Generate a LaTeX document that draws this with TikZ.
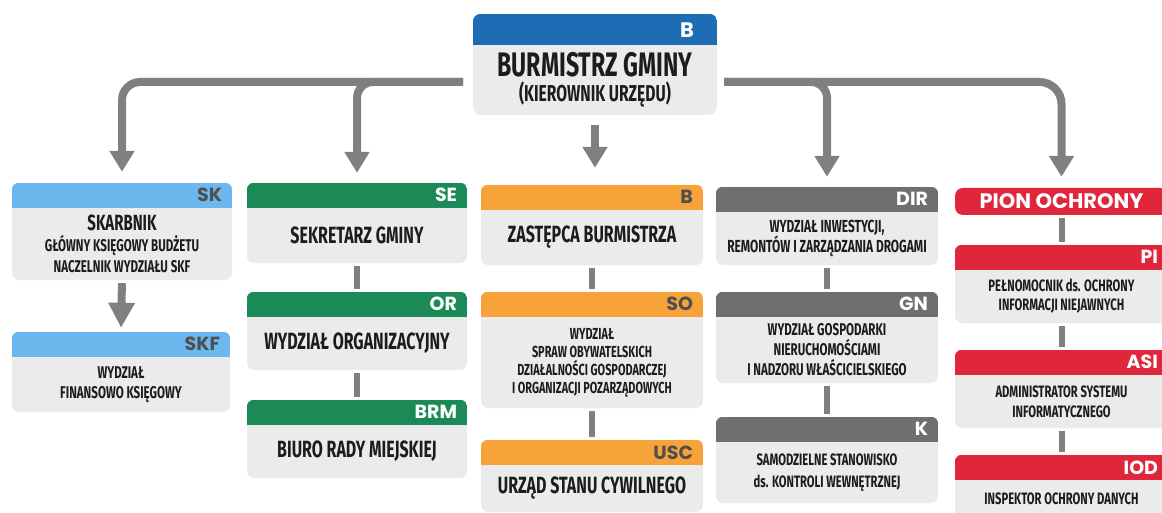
\documentclass[tikz,border=0pt]{standalone}
\usepackage{fontspec}
\newfontfamily\cnd[FakeStretch=0.68]{Fira Sans}
\newfontfamily\labf{Poppins}
\usetikzlibrary{fit,calc,arrows.meta}
\definecolor{bodyg}{HTML}{EBEBEB}
\definecolor{cblue}{HTML}{1E6DB4}
\definecolor{clblue}{HTML}{6CB8EE}
\definecolor{cgreen}{HTML}{1B8A57}
\definecolor{corange}{HTML}{F8A23A}
\definecolor{cgrey}{HTML}{6E6F71}
\definecolor{cred}{HTML}{E0263B}
\definecolor{arrg}{HTML}{808080}
\definecolor{labdark}{HTML}{4F4F4F}
\definecolor{txt}{HTML}{1C1C1C}
\def\hh{25}
% #1 body font opts, #2 name, #3 corner, #4 corner, #5 header colour, #6 label colour, #7 label, #8 body text
\newcommand\obox[8][]{%
  \node[fit={(#3) (#4)}, inner sep=0pt, fill=bodyg, rounded corners=7pt] (#2) {};
  \begin{scope}
    \clip[rounded corners=7pt] (#2.north west) rectangle (#2.south east);
    \fill[#5] (#2.north west) rectangle ([yshift=-\hh pt]#2.north east);
  \end{scope}
  \node[lab, text=#6, anchor=east] (#2-l) at ([xshift=-10pt,yshift=-0.5*\hh pt]#2.north east) {#7};
  \node[bodytxt, #1] (#2-t) at ($([yshift=-\hh pt]#2.north)!0.5!(#2.south)$) {#8};
}
\tikzset{
  lab/.style={font=\labf\bfseries\fontsize{19}{21}\selectfont, inner sep=0pt},
  bodytxt/.style={font=\cnd\bfseries\fontsize{17}{20}\selectfont, align=center, text=txt, inner sep=0pt},
  big/.style={font=\cnd\bfseries\fontsize{23.5}{26}\selectfont},
  mainarr/.style={draw=arrg, line width=8pt, -{Triangle[width=24pt,length=21pt]}},
  conn/.style={draw=arrg, line width=6pt, shorten <=3pt, shorten >=3pt}
}
\begin{document}
\begin{tikzpicture}[x=1pt,y=-1pt]
\useasboundingbox (0,0) rectangle (1162,513);
% top box
\node[fit={(473,14) (717,115)}, inner sep=0pt, fill=bodyg, rounded corners=8pt] (B) {};
\begin{scope}
  \clip[rounded corners=8pt] (B.north west) rectangle (B.south east);
  \fill[cblue] (B.north west) rectangle ([yshift=-31pt]B.north east);
\end{scope}
\node[lab, text=white, anchor=east, font=\labf\bfseries\fontsize{21}{23}\selectfont] (B-l) at ([xshift=-23pt,yshift=-16pt]B.north east) {B};
\node[bodytxt] (B-t) at ($([yshift=-31pt]B.north)!0.5!(B.south)$)
  {{\fontsize{34}{34}\selectfont BURMISTRZ GMINY}\\[4pt]{\fontsize{23}{25}\selectfont (KIEROWNIK URZĘDU)}};

% column 1
\obox[font=\cnd\bfseries\fontsize{17}{21}\selectfont]{SK}{12,183}{232,280}{clblue}{labdark}{SK}{{\fontsize{22}{22}\selectfont SKARBNIK}\\GŁÓWNY KSIĘGOWY BUDŻETU\\NACZELNIK WYDZIAŁU SKF}
\obox{SKF}{12,332}{230,412}{clblue}{labdark}{SKF}{WYDZIAŁ\\FINANSOWO KSIĘGOWY}
% column 2
\obox[big]{SE}{247,183}{467,263}{cgreen}{white}{SE}{SEKRETARZ GMINY}
\obox[big]{OR}{247,292}{467,370}{cgreen}{white}{OR}{WYDZIAŁ ORGANIZACYJNY}
\obox[big]{BRM}{247,400}{467,478}{cgreen}{white}{BRM}{BIURO RADY MIEJSKIEJ}
% column 3
\obox[big]{ZB}{481,185}{703,265}{corange}{labdark}{B}{ZASTĘPCA BURMISTRZA}
\obox[font=\cnd\bfseries\fontsize{16}{18}\selectfont]{SO}{481,292}{703,408}{corange}{labdark}{SO}{WYDZIAŁ\\SPRAW OBYWATELSKICH\\DZIAŁALNOŚCI GOSPODARCZEJ\\I ORGANIZACJI POZARZĄDOWYCH}
\obox[big]{USC}{481,440}{703,512}{corange}{labdark}{USC}{URZĄD STANU CYWILNEGO}
% column 4
\obox[font=\cnd\bfseries\fontsize{17.5}{19}\selectfont]{DIR}{716,187}{938,265}{cgrey}{white}{DIR}{WYDZIAŁ INWESTYCJI,\\REMONTÓW I ZARZĄDZANIA DROGAMI}
\obox[font=\cnd\bfseries\fontsize{17}{20}\selectfont]{GN}{716,292}{938,383}{cgrey}{white}{GN}{WYDZIAŁ GOSPODARKI\\NIERUCHOMOŚCIAMI\\I NADZORU WŁAŚCICIELSKIEGO}
\obox[font=\cnd\bfseries\fontsize{16.5}{22}\selectfont]{K}{716,417}{938,503}{cgrey}{white}{K}{SAMODZIELNE STANOWISKO\\ds. KONTROLI WEWNĘTRZNEJ}
% column 5
\node[fit={(955,188) (1168,215)}, inner sep=0pt, fill=cred, rounded corners=8pt] (PION) {};
\node[lab, text=white, font=\labf\bfseries\fontsize{21}{23}\selectfont] (PION-l) at (PION) {PION OCHRONY};
\obox[font=\cnd\bfseries\fontsize{16.5}{19}\selectfont]{PI}{955,245}{1168,323}{cred}{white}{PI}{PEŁNOMOCNIK ds. OCHRONY\\INFORMACJI NIEJAWNYCH}
\obox[font=\cnd\bfseries\fontsize{16.5}{20}\selectfont]{ASI}{955,350}{1168,428}{cred}{white}{ASI}{ADMINISTRATOR SYSTEMU\\INFORMATYCZNEGO}
\obox[font=\cnd\bfseries\fontsize{16.5}{20}\selectfont]{IOD}{955,455}{1168,518}{cred}{white}{IOD}{INSPEKTOR OCHRONY DANYCH}

% main arrows
\coordinate (bl) at (463,82);
\coordinate (br) at (724,82);
\draw[mainarr, rounded corners=18pt, shorten >=11pt] (bl) -| (SK.north);
\draw[mainarr, rounded corners=16pt, shorten >=10pt] (bl) -| (SE.north);
\draw[mainarr, shorten <=10pt, shorten >=17pt] (B.south) -- (B.south |- ZB.north);
\draw[mainarr, rounded corners=16pt, shorten >=10pt] (br) -| (DIR.north);
\draw[mainarr, rounded corners=22pt, shorten >=11pt] (br) -| (PION.north);
\draw[mainarr, -{Triangle[width=25pt,length=25pt]}, shorten <=3pt, shorten >=4pt] (SK.south) -- (SKF.north);

% column connectors
\draw[conn] (SE.south) -- (OR.north);
\draw[conn] (OR.south) -- (BRM.north);
\draw[conn] (ZB.south) -- (SO.north);
\draw[conn] (SO.south) -- (USC.north);
\draw[conn] (DIR.south) -- (GN.north);
\draw[conn] (GN.south) -- (K.north);
\draw[conn] (PION.south) -- (PI.north);
\draw[conn] (PI.south) -- (ASI.north);
\draw[conn] (ASI.south) -- (IOD.north);
\end{tikzpicture}
\end{document}
